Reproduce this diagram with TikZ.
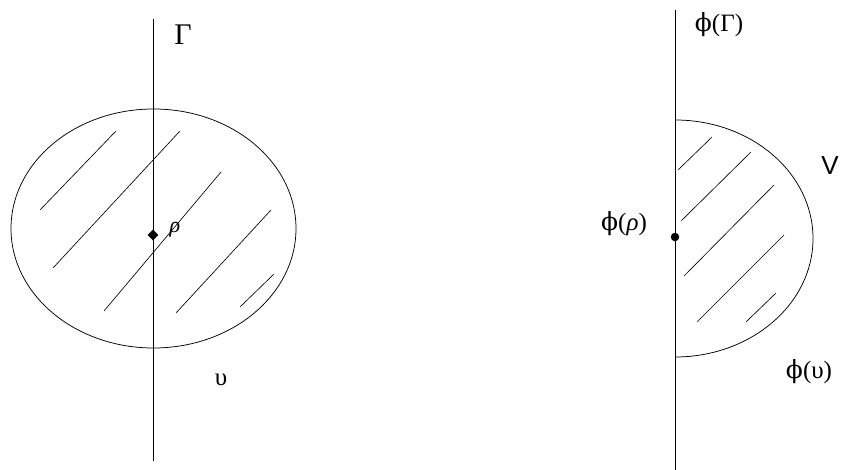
\documentclass[tikz,border=0pt]{standalone}
\usepackage{fontspec}
\newfontfamily\vfont{Liberation Sans}
\newfontfamily\gk{Liberation Serif}
\newfontfamily\phf{DejaVu Serif}
\newcommand{\ph}{{\phf\symbol{"03D5}}}
\newcommand{\rh}{{\itshape ρ}}
\usetikzlibrary{shapes.geometric}
\begin{document}
\begin{tikzpicture}[x=1pt,y=-1pt,
  thinline/.style={line width=0.75pt,black},
  hatch/.style={line width=0.65pt,black},
  lbl/.style={inner sep=0pt,font=\gk\fontsize{25}{28}\selectfont},
  pdot/.style={circle,fill=black,inner sep=0pt,minimum size=8.5pt},
  pdiam/.style={diamond,fill=black,inner sep=0pt,minimum size=11pt}]
\useasboundingbox (0,0) rectangle (841,470);
% left figure
\coordinate (LT) at (153,19);
\coordinate (LB) at (153,461);
\draw[thinline] (153.5,228.5) ellipse [x radius=142.5,y radius=119.5];
\draw[thinline] (LT) -- (LB);
\draw[hatch] (40,210) -- (116,131);
\draw[hatch] (53,268) -- (180,131);
\draw[hatch] (104,311) -- (221,172);
\draw[hatch] (176,313) -- (271,210);
\draw[hatch] (240,307) -- (274,274);
\node[pdiam] (p) at (153,235) {};
\node[lbl,font=\gk\fontsize{22}{24}\selectfont] (rho) at (175,230) {\rh};
\node[lbl,font=\gk\fontsize{30}{32}\selectfont] (gam) at (183,35) {Γ};
\node[lbl] (ups) at (221,380) {υ};
% right figure
\coordinate (RT) at (675,10);
\coordinate (RB) at (675,470);
\draw[thinline] (675,120) arc [start angle=-90,end angle=90,x radius=138,y radius=118.5];
\draw[thinline] (RT) -- (RB);
\draw[hatch] (678,170) -- (712,137);
\draw[hatch] (681,221) -- (751,152);
\draw[hatch] (684,276) -- (774,185);
\draw[hatch] (697,322) -- (784,235);
\draw[hatch] (746,322) -- (776,293);
\node[pdot] (q) at (675,237) {};
\node[lbl] (phirho) at (624,224) {\ph(\rh)};
\node[lbl] (phigam) at (719,25) {\ph(Γ)};
\node[lbl] (phiups) at (809,372) {\ph(υ)};
\node[lbl,font=\vfont\fontsize{26}{28}\selectfont] (V) at (830,166) {V};
\end{tikzpicture}
\end{document}
